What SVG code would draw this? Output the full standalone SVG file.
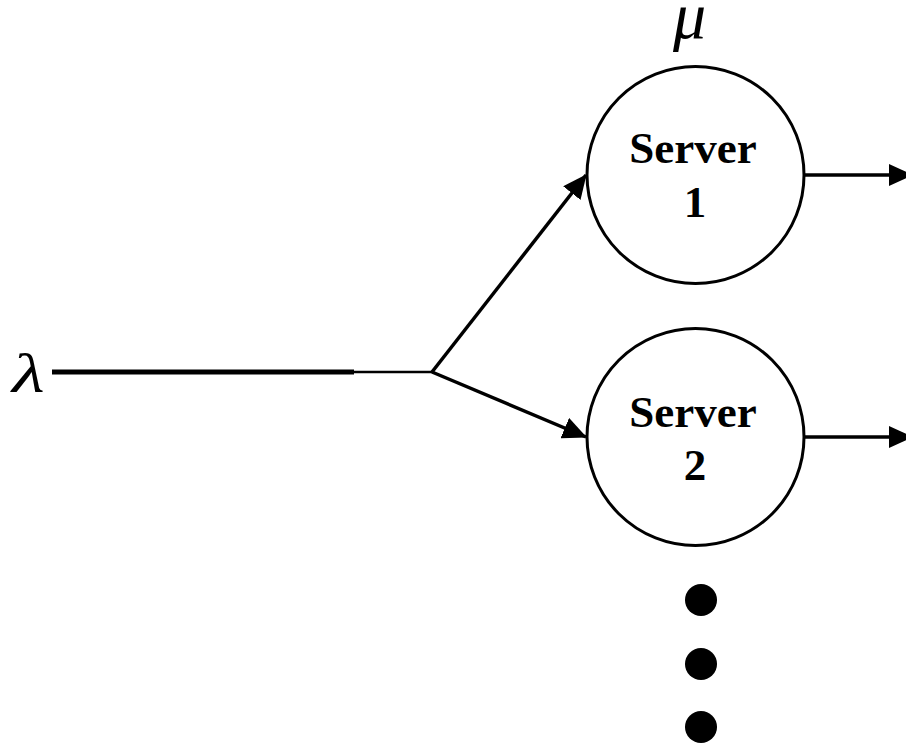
<svg xmlns="http://www.w3.org/2000/svg" width="906" height="745" viewBox="0 0 906 745">
<style>
.node circle{fill:#fff;stroke:#000;stroke-width:3}
.lbl{font-family:"Liberation Serif",serif;font-weight:bold;font-size:45px;text-anchor:middle;fill:#000}
.sym{font-family:"Liberation Serif",serif;font-style:italic;fill:#000}
.conn line{stroke:#000;stroke-width:3.5}
</style>
<defs>
<marker id="ah" markerWidth="24" markerHeight="22" refX="23" refY="11" orient="auto" markerUnits="userSpaceOnUse">
<path d="M0,0 L24,11 L0,22 Z" fill="#000"/>
</marker>
</defs>
<rect width="906" height="745" fill="#fff"/>
<text class="sym" font-size="58" transform="translate(12,392) scale(1.3,0.95)">λ</text>
<text class="sym" font-size="66" x="673" y="38">μ</text>
<g id="server1" class="node">
<circle cx="695.5" cy="175" r="108.5"/>
<text class="lbl" x="693" y="163">Server</text>
<text class="lbl" x="695" y="217">1</text>
</g>
<g id="server2" class="node">
<circle cx="695.5" cy="437" r="108.5"/>
<text class="lbl" x="693" y="427">Server</text>
<text class="lbl" x="695" y="480">2</text>
</g>
<g id="dots">
<circle cx="701" cy="600" r="16"/>
<circle cx="701" cy="664" r="16"/>
<circle cx="701" cy="727" r="16"/>
</g>
<g class="conn">
<line x1="52" y1="372" x2="354" y2="372" style="stroke-width:5"/>
<line x1="352" y1="372" x2="433" y2="372" style="stroke-width:2.5"/>
<line x1="432" y1="372" x2="586" y2="175" marker-end="url(#ah)"/>
<line x1="432" y1="372" x2="586" y2="437" marker-end="url(#ah)"/>
<line x1="804" y1="175" x2="912" y2="175" marker-end="url(#ah)"/>
<line x1="804" y1="437" x2="912" y2="437" marker-end="url(#ah)"/>
</g>
</svg>
